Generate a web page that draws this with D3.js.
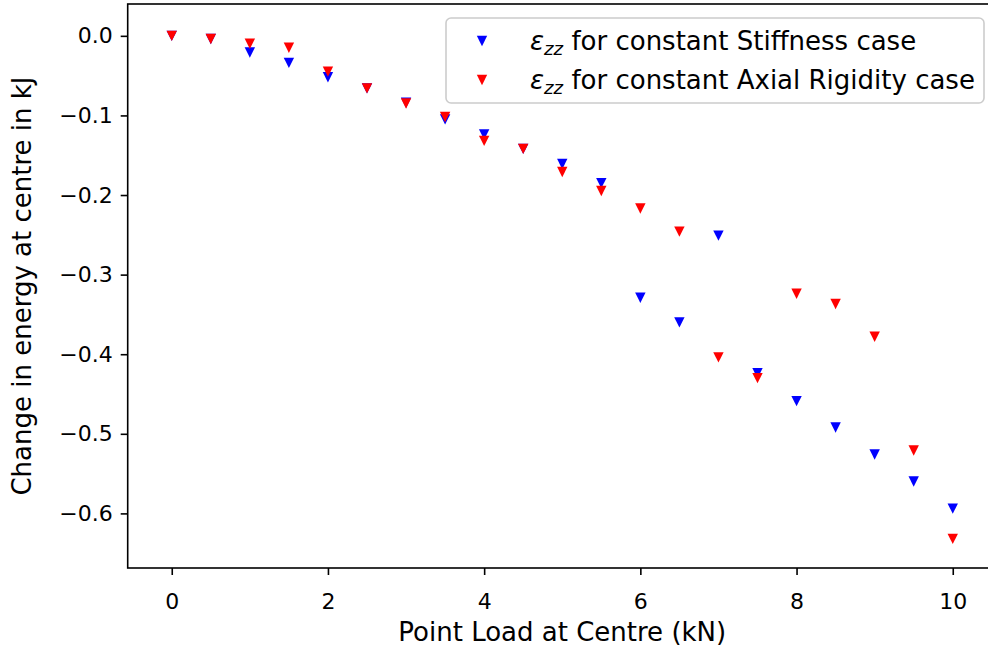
<!DOCTYPE html>
<html>
<head>
<meta charset="utf-8">
<script src="https://cdn.jsdelivr.net/npm/d3@7"></script>
<style>
  html, body { margin: 0; padding: 0; background: #fff; }
  svg { display: block; font-family: "DejaVu Sans", sans-serif; }
</style>
</head>
<body>
<svg id="chart" width="988" height="649"></svg>
<script>
const loads = [0, 0.5, 1, 1.5, 2, 2.5, 3, 3.5, 4, 4.5, 5, 5.5, 6, 6.5, 7, 7.5, 8, 8.5, 9, 9.5, 10];
const stiffness = [0.0, -0.004, -0.021, -0.034, -0.052, -0.066, -0.084, -0.105, -0.124, -0.142, -0.161, -0.185, -0.329, -0.360, -0.251, -0.424, -0.459, -0.492, -0.526, -0.560, -0.594];
const axial = [0.0, -0.004, -0.010, -0.015, -0.045, -0.066, -0.085, -0.102, -0.132, -0.142, -0.171, -0.195, -0.217, -0.246, -0.404, -0.430, -0.324, -0.337, -0.378, -0.521, -0.632];
const xTicks = [0, 2, 4, 6, 8, 10];
const yTicks = [0.0, -0.1, -0.2, -0.3, -0.4, -0.5, -0.6];
const seriesNames = ["for constant Stiffness case", "for constant Axial Rigidity case"];
const seriesColors = ["#0000ff", "#ff0000"];

(function () {
const svg = d3.select("#chart");
const pLeft = 127.7, pRight = 996.8, pTop = 4, pBottom = 568;
const x = d3.scaleLinear().domain([-0.564, 10.564]).range([pLeft, pRight]);
const y = d3.scaleLinear().domain([-0.6686, 0.040]).range([pBottom, pTop]);

const tickFont = 22, labelFont = 26;

// axes
const xAxis = d3.axisBottom(x).tickValues(xTicks).tickFormat(d3.format("d")).tickSizeOuter(0).tickSizeInner(7).tickPadding(8);
const gx = svg.append("g").attr("transform", `translate(0,${pBottom})`).call(xAxis);
const yAxis = d3.axisLeft(y).tickValues(yTicks).tickFormat(d => d3.format(".1f")(d).replace("-", "\u2212")).tickSizeOuter(0).tickSizeInner(7).tickPadding(8);
const gy = svg.append("g").attr("transform", `translate(${pLeft},0)`).call(yAxis);
[gx, gy].forEach(g => {
  g.selectAll(".domain").remove();
  g.selectAll(".tick line").attr("stroke", "#000").attr("stroke-width", 1.6);
  g.selectAll(".tick text").attr("fill", "#000").attr("font-size", tickFont).attr("font-family", "DejaVu Sans");
});
gx.selectAll(".tick text").attr("dy", "1.2em");

// spines
svg.append("rect").attr("x", pLeft).attr("y", pTop).attr("width", pRight - pLeft).attr("height", pBottom - pTop)
  .attr("fill", "none").attr("stroke", "#000").attr("stroke-width", 1.6);

// markers
const s = 5.2;
const tri = `M${-s},${-s}L${s},${-s}L0,${s}Z`;
const series = [stiffness, axial];
series.forEach((vals, i) => {
  svg.append("g").selectAll("path").data(loads).join("path")
    .attr("d", tri)
    .attr("transform", (d, j) => `translate(${x(d)},${y(vals[j])})`)
    .attr("fill", seriesColors[i]);
});

// axis labels
svg.append("text").attr("x", (pLeft + pRight) / 2).attr("y", 641).attr("text-anchor", "middle")
  .attr("font-size", labelFont).attr("fill", "#000").text("Point Load at Centre (kN)");
svg.append("text").attr("transform", `translate(31,${(pTop + pBottom) / 2}) rotate(-90)`).attr("text-anchor", "middle")
  .attr("font-size", labelFont).attr("fill", "#000").text("Change in energy at centre in kJ");

// legend
const lg = svg.append("g");
lg.append("rect").attr("x", 446).attr("y", 18).attr("width", 538).attr("height", 85).attr("rx", 5)
  .attr("fill", "#fff").attr("fill-opacity", 0.8).attr("stroke", "#cccccc").attr("stroke-width", 1.6);
seriesNames.forEach((name, i) => {
  const cy = 41 + i * 39;
  lg.append("path").attr("d", tri).attr("transform", `translate(482,${cy})`).attr("fill", seriesColors[i]);
  const t = lg.append("text").attr("x", 530).attr("y", cy + 9).attr("font-size", labelFont).attr("fill", "#000");
  t.append("tspan").attr("font-style", "italic").text("\u03b5");
  t.append("tspan").attr("font-style", "italic").attr("font-size", labelFont * 0.7).attr("dy", 5).text("zz");
  t.append("tspan").attr("dy", -5).text(" " + name);
});
})();
</script>
</body>
</html>
